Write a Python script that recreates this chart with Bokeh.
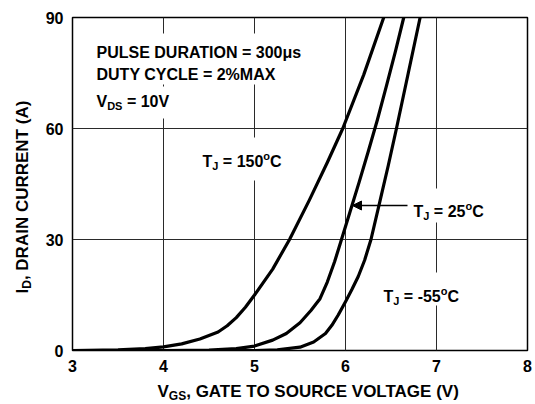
from bokeh.plotting import figure
from bokeh.models import Range1d, Arrow, NormalHead, BoxAnnotation, FixedTicker
from bokeh.core.properties import value
from bokeh.embed import file_html
from bokeh.resources import INLINE

# ---- data ----
vgs_150 = [3.0, 3.5, 3.8, 4.0, 4.2, 4.4, 4.6, 4.7, 4.8, 4.9, 5.0, 5.2, 5.385, 5.6, 5.8, 5.97,
           6.2, 6.42]
id_150 = [0.0, 0.15, 0.5, 1.0, 1.8, 3.1, 5.0, 6.7, 8.9, 11.7, 15.0, 22.0, 30.0, 40.5, 50.8,
          60.0, 74.5, 90.0]

vgs_25 = [3.0, 4.0, 4.5, 4.8, 5.0, 5.2, 5.35, 5.5, 5.62, 5.72, 5.8, 5.88, 5.95, 6.05, 6.15,
          6.25, 6.35, 6.45, 6.55, 6.64]
id_25 = [0.0, 0.0, 0.1, 0.5, 1.2, 2.8, 4.6, 7.5, 10.8, 14.0, 18.5, 24.0, 29.5, 37.5, 45.5,
         53.8, 62.3, 71.5, 81.0, 90.0]

vgs_m55 = [3.0, 5.0, 5.25, 5.5, 5.65, 5.78, 5.85, 5.92, 6.0, 6.07, 6.14, 6.21, 6.28, 6.38,
           6.47, 6.56, 6.69, 6.82]
id_m55 = [0.0, 0.0, 0.2, 0.9, 2.3, 4.6, 6.8, 9.6, 13.2, 16.5, 20.0, 24.4, 30.0, 40.5,
          50.0, 60.0, 75.0, 90.0]

x_ticks = [3, 4, 5, 6, 7, 8]
y_ticks = [0, 30, 60, 90]

FONT = "Liberation Sans"

# Arial/Liberation Sans Bold advance widths (per 1000 em)
W = {' ': 278, '!': 333, '%': 889, '(': 333, ')': 333, ',': 278, '-': 333, '.': 278, '=': 584,
     'A': 722, 'B': 722, 'C': 722, 'D': 722, 'E': 667, 'F': 611, 'G': 778, 'H': 722, 'I': 278,
     'J': 556, 'K': 722, 'L': 611, 'M': 833, 'N': 722, 'O': 778, 'P': 667, 'Q': 778, 'R': 722,
     'S': 667, 'T': 611, 'U': 722, 'V': 667, 'W': 944, 'X': 667, 'Y': 667, 'Z': 611,
     'o': 611, 's': 556, 'μ': 611}
for d in "0123456789":
    W[d] = 556


def tw(s, size):
    return sum(W.get(c, 600) for c in s) * size / 1000.0


p = figure(width=533, height=402, x_range=Range1d(3, 8), y_range=Range1d(0, 90),
           output_backend="svg", toolbar_location=None,
           min_border_left=72, min_border_right=6, min_border_top=17, min_border_bottom=52)

p.background_fill_color = "white"
p.border_fill_color = "white"
p.outline_line_color = "black"
p.outline_line_width = 1.5
p.outline_line_alpha = 1.0

for ax, ticks in ((p.xaxis, x_ticks), (p.yaxis, y_ticks)):
    ax.ticker = FixedTicker(ticks=ticks)
    ax.axis_line_color = None
    ax.major_tick_line_color = None
    ax.minor_tick_line_color = None
    ax.major_tick_out = 0
    ax.major_tick_in = 0
    ax.minor_tick_out = 0
    ax.minor_tick_in = 0
    ax.major_label_text_font = FONT
    ax.major_label_text_font_style = "bold"
    ax.major_label_text_font_size = "16px"
    ax.major_label_text_color = "black"
    ax.major_label_standoff = 9

p.xgrid.ticker = FixedTicker(ticks=x_ticks)
p.ygrid.ticker = FixedTicker(ticks=y_ticks)
for g in (p.xgrid, p.ygrid):
    g.grid_line_color = "#2a2a2a"
    g.grid_line_width = 1
    g.grid_line_alpha = 1.0

# curves
for xs, ys in ((vgs_150, id_150), (vgs_25, id_25), (vgs_m55, id_m55)):
    p.line(xs, ys, line_color="black", line_width=3.2, line_join="round", line_cap="round")


# canvas-pixel -> data helpers for annotation placement
def dx(px):
    return 3 + (px - 72) / 91.0


def dy(py):
    return (350 - py) / 3.7


# white boxes behind annotation texts (interrupt grid lines)
for l, r, t, b in ((92, 312, 33, 84), (92, 192, 86, 118), (198, 288, 137, 180),
                   (410, 492, 188, 222), (378, 470, 272, 305)):
    p.add_layout(BoxAnnotation(left=dx(l), right=dx(r), top=dy(t), bottom=dy(b),
                               fill_color="white", fill_alpha=1.0, line_color=None))


def run(x0, y0, parts, angle=0.0):
    pos = 0.0
    for text, size, shift in parts:
        stripped = text.lstrip(" ")
        pos += tw(text[:len(text) - len(stripped)], size)
        if angle == 0:
            x, y = x0 + pos, y0 + shift
        else:
            x, y = x0 + shift, y0 - pos
        r = p.text(x=[dx(x)], y=[dy(y)], text=[stripped], text_font=value(FONT),
                   text_font_size=value(f"{size}px"), text_font_style="bold",
                   text_color="black", text_align="left", text_baseline="alphabetic",
                   angle=angle)
        r.level = "overlay"
        pos += tw(stripped, size)


run(96, 52, [("PULSE DURATION = 300μs", 16, 0)])
run(96, 74, [("DUTY CYCLE = 2%MAX", 16, 0)])
run(96, 101, [("V", 16, 0), ("DS", 11, 4), (" = 10V", 16, 0)])
run(202, 161, [("T", 16, 0), ("J", 11, 4), (" = 150", 16, 0), ("o", 11, -6), ("C", 16, 0)])
run(413, 211, [("T", 16, 0), ("J", 11, 4), (" = 25", 16, 0), ("o", 11, -6), ("C", 16, 0)])
run(383, 296, [("T", 16, 0), ("J", 11, 4), (" = -55", 16, 0), ("o", 11, -6), ("C", 16, 0)])

# axis titles
run(157, 391, [("V", 17, 0), ("GS", 12, 4), (", GATE TO SOURCE VOLTAGE (V)", 17, 0)])
run(22, 293, [("I", 17, 0), ("D", 12, 4), (", DRAIN CURRENT (A)", 17, 0)], angle=1.5707963267948966)

# arrow pointing to the 25 C curve
p.add_layout(Arrow(end=NormalHead(size=9, fill_color="black", line_color="black"),
                   x_start=dx(407), y_start=dy(205), x_end=dx(352), y_end=dy(205),
                   line_color="black", line_width=1.5))

open("out.html", "w").write(file_html(p, INLINE))
